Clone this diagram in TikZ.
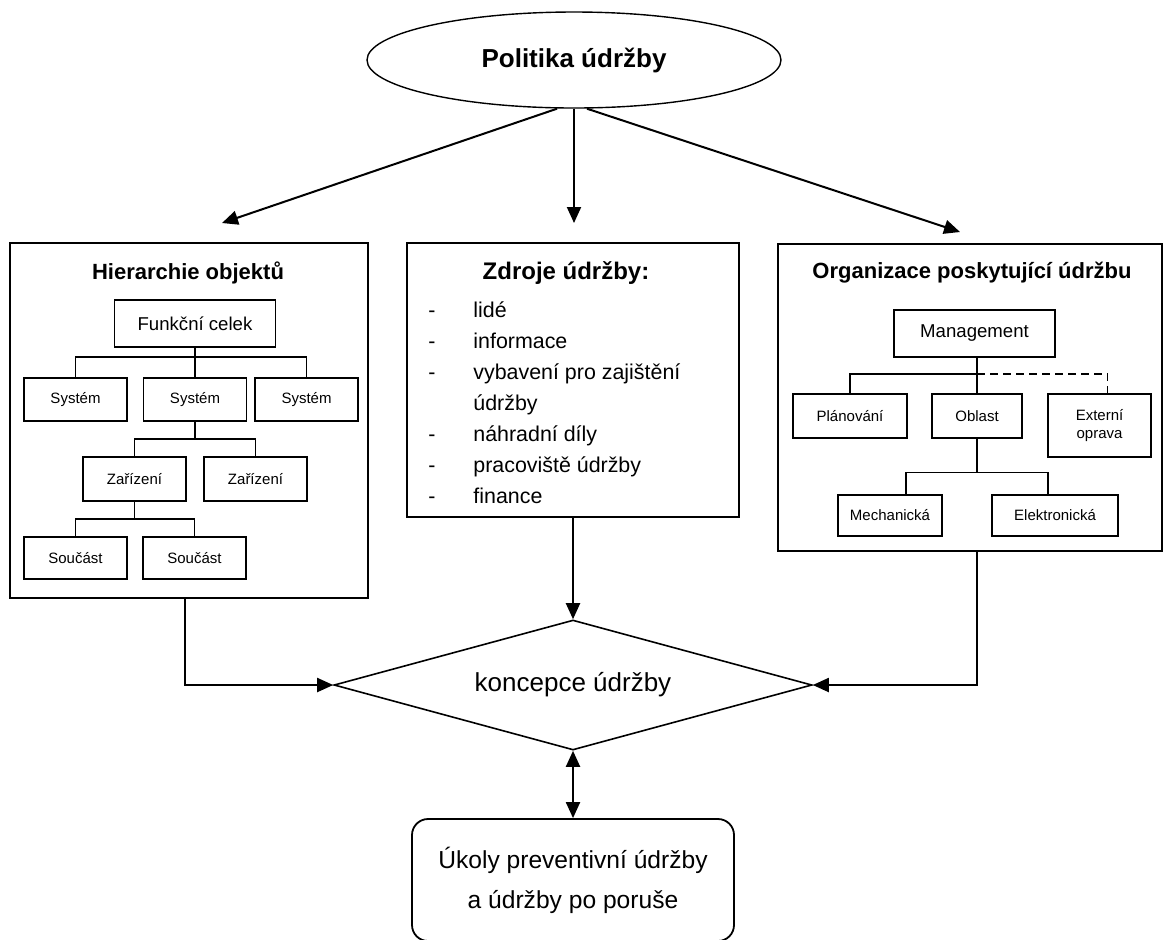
\documentclass[tikz,border=0pt]{standalone}
\usepackage{fontspec}
\setmainfont{Liberation Sans}
\usetikzlibrary{arrows.meta,positioning,calc,shapes.geometric}

\begin{document}
\begin{tikzpicture}[x=0.5pt,y=-0.5pt,
   box/.style={draw,line width=0.9pt,inner sep=0pt,align=center},
   sbox/.style={box,font=\fontsize{7.5}{9}\selectfont},
   mbox/.style={box,font=\fontsize{9.3}{11}\selectfont,minimum width=80.5pt,minimum height=23.5pt},
   frame/.style={draw,line width=0.9pt,inner sep=0pt},
   ttl/.style={font=\fontsize{11}{13}\selectfont\bfseries},
   item/.style={font=\fontsize{10.7}{13}\selectfont,inner sep=0pt,text height=8pt,text depth=2.5pt},
   tree/.style={line width=0.8pt},
   arr/.style={line width=1pt,-{Triangle[length=8pt,width=7pt]}},
   darr/.style={line width=1pt,{Triangle[length=8pt,width=7pt]}-{Triangle[length=8pt,width=7pt]}}]
  \useasboundingbox (0,0) rectangle (1165,939);
  % ---------- top: maintenance policy ----------
  \node[draw,ellipse,line width=0.7pt,minimum width=207pt,minimum height=48pt,
        font=\fontsize{13}{15}\selectfont\bfseries] (pol) at (574,60) {Politika údržby};
  \coordinate (hin) at (222,223);
  \coordinate (zin) at (574,223);
  \coordinate (oin) at (960,232);
  \draw[arr] ([xshift=-8.5pt]pol.south) -- (hin);
  \draw[arr] (pol.south) -- (zin);
  \draw[arr] ([xshift=6.5pt]pol.south) -- (oin);
  % ---------- left panel: object hierarchy ----------
  \node[frame,minimum width=179pt,minimum height=177.5pt] (hier) at (189,420.5) {};
  \node[ttl] (hiert) at (188,273) {Hierarchie objektů};
  \node[mbox] (fc) at (195,323.5) {Funkční celek};
  \foreach \n/\x in {sys1/75.5,sys2/195,sys3/306.5}
     {\node[sbox,minimum width=51.5pt,minimum height=21.5pt] (\n) at (\x,399.5) {Systém};}
  \foreach \n/\x in {zar1/134.5,zar2/255.5}
     {\node[sbox,minimum width=51.5pt,minimum height=22pt] (\n) at (\x,479) {Zařízení};}
  \foreach \n/\x in {sou1/75.5,sou2/194.5}
     {\node[sbox,minimum width=51.5pt,minimum height=21pt] (\n) at (\x,558) {Součást};}
  \coordinate (j1) at ($(fc.south)!.32!(sys2.north)$);
  \coordinate (j2) at ($(sys2.south)!.5!(sys2.south |- zar1.north)$);
  \coordinate (j3) at ($(zar1.south)!.5!(zar1.south |- sou1.north)$);
  \draw[tree] (fc.south) -- (sys2.north);
  \draw[tree] (sys1.north) |- (j1) -| (sys3.north);
  \draw[tree] (sys2.south) -- (j2);
  \draw[tree] (zar1.north) |- (j2) -| (zar2.north);
  \draw[tree] (zar1.south) -- (j3);
  \draw[tree] (sou1.north) |- (j3) -| (sou2.north);
  % ---------- middle panel: resources ----------
  \node[frame,minimum width=166pt,minimum height=137pt] (zdroj) at (573,380) {};
  \node[ttl,font=\fontsize{12}{14}\selectfont\bfseries] (zdrojt) at (566,273) {Zdroje údržby:};
  \foreach \t [count=\i from 0] in {lidé,informace,vybavení pro zajištění,údržby,náhradní díly,pracoviště údržby,finance}
     {\node[item,anchor=west] (it\i) at (473,312+31*\i) {\t};}
  \foreach \i in {0,1,2,4,5,6}
     {\node[item] (dash\i) at (432,312+31*\i) {-};}
  % ---------- right panel: organisation ----------
  \node[frame,minimum width=192pt,minimum height=153.5pt] (org) at (970,397.5) {};
  \node[ttl] (orgt) at (972,273) {Organizace poskytující údržbu};
  \node[mbox] (mgmt) at (974.5,333.5) {Management};
  \node[sbox,minimum width=57pt,minimum height=22pt] (plan) at (850,416) {Plánování};
  \node[sbox,minimum width=45pt,minimum height=22pt] (obl) at (977,416) {Oblast};
  \node[sbox,minimum width=51.5pt,minimum height=31.5pt] (ext) at (1099.5,425.5) {Externí\\oprava};
  \node[sbox,minimum width=52pt,minimum height=20.5pt] (mech) at (890,515.5) {Mechanická};
  \node[sbox,minimum width=63pt,minimum height=20.5pt] (elek) at (1055,515.5) {Elektronická};
  \coordinate (k1) at ($(obl.north)!.55!(obl.north |- mgmt.south)$);
  \coordinate (k2) at ($(obl.south)!.61!(obl.south |- mech.north)$);
  \draw[tree] (mgmt.south -| obl.north) -- (obl.north);
  \draw[tree] (plan.north) |- (k1);
  \draw[tree,dash pattern=on 4pt off 2.5pt] (k1) -| ([xshift=4pt]ext.north);
  \draw[tree] (obl.south) -- (k2);
  \draw[tree] ([xshift=8pt]mech.north) |- (k2) -| ([xshift=-3.5pt]elek.north);
  % ---------- bottom: concept and tasks ----------
  \node[draw,diamond,aspect=3.68,line width=0.8pt,inner sep=0pt,minimum width=239pt,minimum height=65pt,
        font=\fontsize{13}{15}\selectfont] (konc) at (573,685) {koncepce údržby};
  \node[draw,rounded corners=8pt,line width=0.9pt,minimum width=161pt,minimum height=61pt,align=center,
        font=\fontsize{12.3}{20}\selectfont] (ukol) at (573,880) {Úkoly preventivní údržby\\a údržby po poruše};
  \draw[arr] (zdroj.south) -- (konc.north);
  \draw[arr] ([xshift=-2pt]hier.south) |- (konc.west);
  \draw[arr] ([xshift=3.5pt]org.south) |- (konc.east);
  \draw[darr] (konc.south) -- (ukol.north);
\end{tikzpicture}
\end{document}
